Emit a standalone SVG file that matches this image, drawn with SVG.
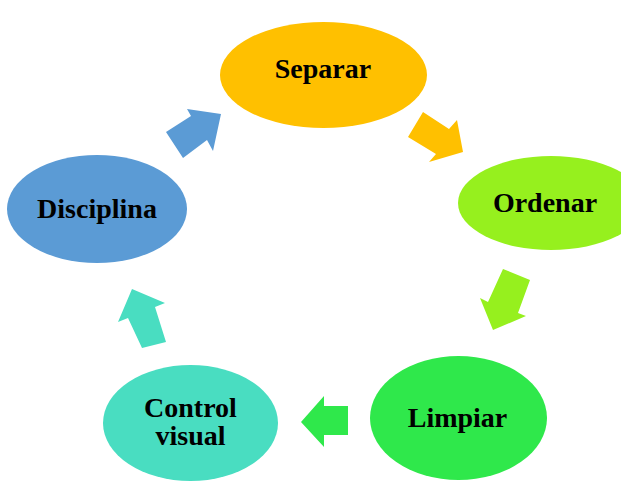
<svg xmlns="http://www.w3.org/2000/svg" width="621" height="481" viewBox="0 0 621 481">
  <style>
    .lbl { font-family: "Liberation Serif", "Times New Roman", serif; font-weight: bold; font-size: 28px; fill: #000; text-anchor: middle; }
  </style>
  <rect width="621" height="481" fill="#fff"/>

  <!-- block arrows between the stages -->
  <g id="connectors">
    <polygon fill="#5B9BD5" points="166,132 191,116 187,109 221,114 213,151 207,140 183,158"/>
    <polygon fill="#FFC000" points="423,112 449,129 457,120 463,152 429,162 436,154 408,137"/>
    <polygon fill="#96F01E" points="503,269 530,280 518,313 526,316 493,330 480,298 488,302"/>
    <polygon fill="#2FE84B" points="348,406 324,406 324,396 301,422 324,447 324,435 348,435"/>
    <polygon fill="#49DDC1" points="142,348 166,342 155,307 165,303 132,289 118,322 128,318"/>
  </g>

  <g id="separar">
    <ellipse cx="323.5" cy="75" rx="103.5" ry="53" fill="#FFC000"/>
    <text class="lbl" x="323" y="78">Separar</text>
  </g>
  <g id="ordenar">
    <ellipse cx="551" cy="203" rx="93" ry="47" fill="#96F01E"/>
    <text class="lbl" x="545" y="212">Ordenar</text>
  </g>
  <g id="limpiar">
    <ellipse cx="458.5" cy="418" rx="88.5" ry="62" fill="#2FE84B"/>
    <text class="lbl" x="457.5" y="427">Limpiar</text>
  </g>
  <g id="control-visual">
    <ellipse cx="190.5" cy="423" rx="87.5" ry="58" fill="#49DDC1"/>
    <text class="lbl" x="190.5" y="417">Control</text>
    <text class="lbl" x="190.5" y="445">visual</text>
  </g>
  <g id="disciplina">
    <ellipse cx="97" cy="209" rx="90" ry="54" fill="#5B9BD5"/>
    <text class="lbl" x="97" y="218">Disciplina</text>
  </g>
</svg>
